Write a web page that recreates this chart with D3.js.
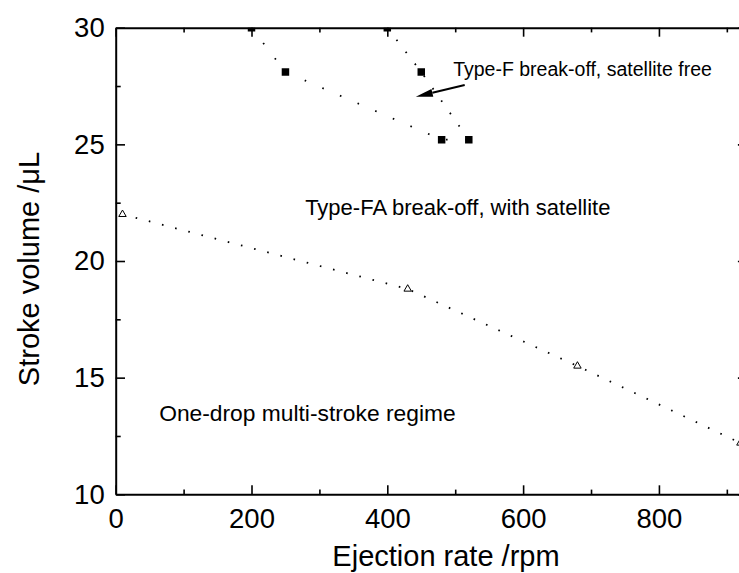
<!DOCTYPE html>
<html>
<head>
<meta charset="utf-8">
<script src="https://cdn.jsdelivr.net/npm/d3@7"></script>
<style>
  html, body { margin: 0; padding: 0; background: #fff; }
  svg { display: block; font-family: "Liberation Sans", Arial, Helvetica, sans-serif; }
</style>
</head>
<body>
<svg id="chart" width="739" height="573"></svg>
<script>
// ---- data ----
const xMajorTicks = [0, 200, 400, 600, 800];
const xMinorTicks = [100, 300, 500, 700, 900];
const yMajorTicks = [10, 15, 20, 25, 30];
const yMinorTicks = [12.5, 17.5, 22.5, 27.5];

// Type-F boundary (filled squares)
const lineARates   = [200, 250, 480, 520];
const lineAVolumes = [30, 28.1, 25.2, 25.2];
const lineBRates   = [400, 450, 520];
const lineBVolumes = [30, 28.1, 25.2];
const squareRates   = [200, 250, 400, 450, 480, 520];
const squareVolumes = [30, 28.1, 30, 28.1, 25.2, 25.2];

// One-drop boundary (open triangles)
const triRates   = [10, 430, 680, 920];
const triVolumes = [22, 18.8, 15.5, 12.2];

const xTitle = "Ejection rate /rpm";
const yTitle = "Stroke volume /\u03BCL";
const labels = [
  { text: "Type-F break-off, satellite free", rate: 497, vol: 27.93, size: 19.5 },
  { text: "Type-FA break-off, with satellite", rate: 279, vol: 21.97, size: 22 },
  { text: "One-drop multi-stroke regime", rate: 64, vol: 13.16, size: 22.8 }
];
const arrowFrom = { rate: 514, vol: 27.54 };
const arrowTo   = { rate: 442, vol: 27.04 };

// ---- layout ----
const svg = d3.select("#chart");
const pLeft = 115.7, pRight = 747.2, pTop = 27.7, pBottom = 494.3;
const x = d3.scaleLinear().domain([0, 930]).range([pLeft, pRight]);
const y = d3.scaleLinear().domain([10, 30]).range([pBottom, pTop]);

svg.append("defs").append("clipPath").attr("id", "plotclip")
  .append("rect").attr("x", pLeft).attr("y", pTop)
  .attr("width", pRight - pLeft).attr("height", pBottom - pTop);

function styleAxis(g, showLabels) {
  g.select(".domain").attr("stroke", "#000").attr("stroke-width", 2);
  g.selectAll(".tick line").attr("stroke", "#000").attr("stroke-width", 1.6);
  g.selectAll(".tick text").attr("fill", "#000").attr("font-size", "27.5px")
    .attr("font-family", '"Liberation Sans", Arial, sans-serif');
  if (!showLabels) g.selectAll(".tick text").remove();
}

// bottom axis
const gb = svg.append("g").attr("transform", `translate(0,${pBottom})`)
  .call(d3.axisBottom(x).tickValues(xMajorTicks).tickSize(-9).tickSizeOuter(0).tickPadding(14).tickFormat(d3.format("d")));
styleAxis(gb, true);
const gbm = svg.append("g").attr("transform", `translate(0,${pBottom})`)
  .call(d3.axisBottom(x).tickValues(xMinorTicks).tickSize(-4.7).tickSizeOuter(0).tickFormat(""));
styleAxis(gbm, false); gbm.select(".domain").remove();

// top axis
const gt = svg.append("g").attr("transform", `translate(0,${pTop})`)
  .call(d3.axisTop(x).tickValues(xMajorTicks).tickSize(-9).tickSizeOuter(0).tickFormat(""));
styleAxis(gt, false);
const gtm = svg.append("g").attr("transform", `translate(0,${pTop})`)
  .call(d3.axisTop(x).tickValues(xMinorTicks).tickSize(-4.7).tickSizeOuter(0).tickFormat(""));
styleAxis(gtm, false); gtm.select(".domain").remove();

// left axis
const gl = svg.append("g").attr("transform", `translate(${pLeft},0)`)
  .call(d3.axisLeft(y).tickValues(yMajorTicks).tickSize(-9.3).tickSizeOuter(0).tickPadding(11).tickFormat(d3.format("d")));
styleAxis(gl, true);
const glm = svg.append("g").attr("transform", `translate(${pLeft},0)`)
  .call(d3.axisLeft(y).tickValues(yMinorTicks).tickSize(-5).tickSizeOuter(0).tickFormat(""));
styleAxis(glm, false); glm.select(".domain").remove();

// right axis
const gr = svg.append("g").attr("transform", `translate(${pRight},0)`)
  .call(d3.axisRight(y).tickValues(yMajorTicks).tickSize(-9.3).tickSizeOuter(0).tickFormat(""));
styleAxis(gr, false);

// ---- series ----
const plot = svg.append("g").attr("clip-path", "url(#plotclip)");
const line = d3.line().x(d => x(d[0])).y(d => y(d[1]));

function dotted(rates, vols, dash) {
  plot.append("path")
    .attr("d", line(d3.zip(rates, vols)))
    .attr("fill", "none").attr("stroke", "#000")
    .attr("stroke-width", 1.8).attr("stroke-dasharray", dash);
}
dotted(lineARates, lineAVolumes, "1.6,17.6");
dotted(lineBRates, lineBVolumes, "1.6,13.5");
dotted(triRates, triVolumes, "1.6,12");

plot.selectAll(".sq").data(d3.zip(squareRates, squareVolumes)).join("path")
  .attr("class", "sq")
  .attr("transform", d => `translate(${x(d[0])},${y(d[1])})`)
  .attr("d", d3.symbol(d3.symbolSquare, 56))
  .attr("fill", "#000");

plot.selectAll(".tri").data(d3.zip(triRates, triVolumes)).join("path")
  .attr("class", "tri")
  .attr("transform", d => `translate(${x(d[0])},${y(d[1])})`)
  .attr("d", d3.symbol(d3.symbolTriangle, 24))
  .attr("fill", "#fff").attr("stroke", "#000").attr("stroke-width", 1);

// ---- annotations ----
svg.selectAll(".ann").data(labels).join("text")
  .attr("class", "ann")
  .attr("x", d => x(d.rate)).attr("y", d => y(d.vol))
  .attr("font-size", d => d.size + "px").attr("fill", "#000")
  .text(d => d.text);

// arrow
const ax0 = x(arrowFrom.rate), ay0 = y(arrowFrom.vol);
const ax1 = x(arrowTo.rate), ay1 = y(arrowTo.vol);
const ang = Math.atan2(ay1 - ay0, ax1 - ax0);
const headLen = 17, headW = 4;
const bx = ax1 - headLen * Math.cos(ang), by = ay1 - headLen * Math.sin(ang);
svg.append("line")
  .attr("x1", ax0).attr("y1", ay0).attr("x2", bx).attr("y2", by)
  .attr("stroke", "#000").attr("stroke-width", 2);
svg.append("path")
  .attr("d", `M${ax1},${ay1}L${bx + headW * Math.sin(ang)},${by - headW * Math.cos(ang)}L${bx - headW * Math.sin(ang)},${by + headW * Math.cos(ang)}Z`)
  .attr("fill", "#000");

// ---- axis titles ----
svg.append("text").attr("x", 446).attr("y", 566)
  .attr("text-anchor", "middle").attr("font-size", "29px").attr("fill", "#000")
  .text(xTitle);
svg.append("text").attr("transform", "translate(39,269) rotate(-90)")
  .attr("text-anchor", "middle").attr("font-size", "29px").attr("fill", "#000")
  .text(yTitle);
</script>
</body>
</html>
